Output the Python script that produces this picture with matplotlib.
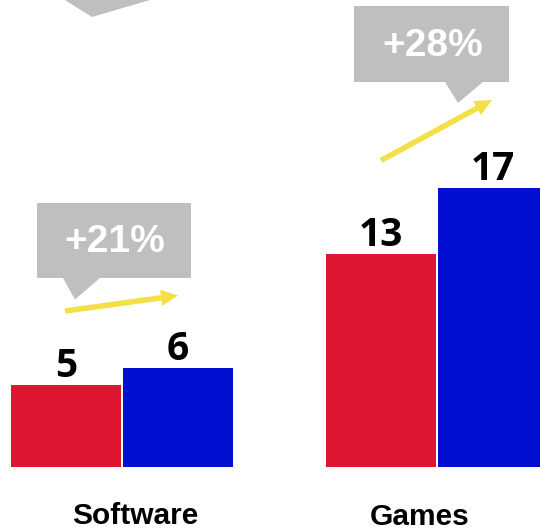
import matplotlib.pyplot as plt
import matplotlib.transforms as mtransforms
from matplotlib.patches import Polygon, FancyArrow
import numpy as np

# data
categories = ["Software", "Games"]
before = [5, 13]
after = [6, 17]
growth = ["+21%", "+28%"]

redColor = "#dd1530"
blueColor = "#000fd0"
boxGray = "#bfbfbf"
arrowYellow = "#f4df45"

fig = plt.figure(figsize=(5.4, 5.3), dpi=100)
ax = fig.add_axes([0, 0, 1, 1])
ax.set_axis_off()

# pixel coordinates measured from the top-left corner
px = mtransforms.Affine2D().scale(0.01, -0.01).translate(0, 5.3) + fig.dpi_scale_trans

x = np.arange(len(categories))
barWidth = 0.35
gap = 0.0032

bars1 = ax.bar(x - barWidth / 2 - gap, before, barWidth, color=redColor)
bars2 = ax.bar(x + barWidth / 2 + gap, after, barWidth, color=blueColor)

ax.set_xlim(-0.387, 1.327)
ax.set_ylim(-3.87, 28.51)

for bars in (bars1, bars2):
    for b in bars:
        ax.annotate(str(int(b.get_height())),
                    xy=(b.get_x() + b.get_width() / 2, b.get_height()),
                    xytext=(0, 5.8), textcoords="offset points",
                    ha="center", va="baseline", fontsize=28,
                    fontweight="bold", family="Open Sans", color="black")

# category names under each group
labelPos = [(135, 524), (420, 525)]
for name, (lx, ly) in zip(categories, labelPos):
    ax.text(lx, ly, name, transform=px, ha="center", va="baseline",
            fontsize=21.5, fontweight="bold", family="Liberation Sans")


def callout(x0, y0, x1, y1, tail, text):
    box = Polygon([(x0, y0), (x1, y0), (x1, y1), tail[2], tail[1], tail[0], (x0, y1)],
                  closed=True, transform=px, facecolor=boxGray, edgecolor="none")
    ax.add_patch(box)
    ax.text((x0 + x1) / 2 + 1, (y0 + y1) / 2 + 1.5, text, transform=px,
            ha="center", va="center", fontsize=28, fontweight="bold",
            family="Liberation Sans", color="white")


callout(37, 203, 191, 278, [(63, 278), (75, 299.5), (100, 278)], growth[0])
callout(354, 6, 509, 82, [(445, 82), (458, 103), (483, 82)], growth[1])

# tail of a callout sitting above the frame
ax.add_patch(Polygon([(49, -10), (92, 17), (184, -10)], closed=True,
                     transform=px, facecolor=boxGray, edgecolor="none"))


def trend(x0, y0, x1, y1):
    ax.add_patch(FancyArrow(x0, y0, x1 - x0, y1 - y0, width=5.5,
                            head_width=16, head_length=17,
                            length_includes_head=True, transform=px,
                            facecolor=arrowYellow, edgecolor="none"))


trend(65, 311, 178, 295.5)
trend(381, 160.5, 492, 100)

fig.savefig("out.png", dpi=100)
